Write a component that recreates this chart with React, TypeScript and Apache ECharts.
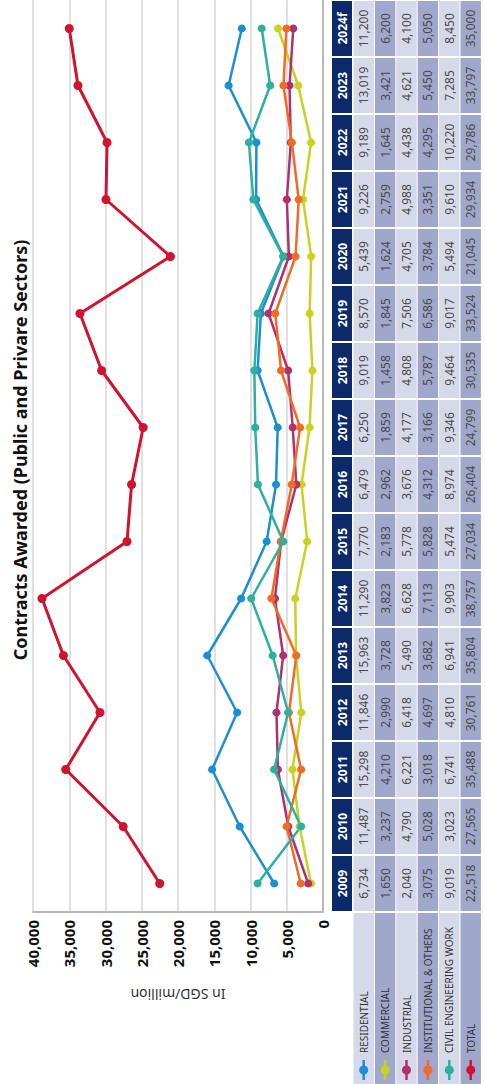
import React, { useEffect, useRef } from "react";
import * as echarts from "echarts";

const years = ["2009", "2010", "2011", "2012", "2013", "2014", "2015", "2016", "2017", "2018", "2019", "2020", "2021", "2022", "2023", "2024f"];
const residential = [6734, 11487, 15298, 11846, 15963, 11290, 7770, 6479, 6250, 9019, 8570, 5439, 9226, 9189, 13019, 11200];
const commercial = [1650, 3237, 4210, 2990, 3728, 3823, 2183, 2962, 1859, 1458, 1845, 1624, 2759, 1645, 3421, 6200];
const industrial = [2040, 4790, 6221, 6418, 5490, 6628, 5778, 3676, 4177, 4808, 7506, 4705, 4988, 4438, 4621, 4100];
const institutional = [3075, 5028, 3018, 4697, 3682, 7113, 5828, 4312, 3166, 5787, 6586, 3784, 3351, 4295, 5450, 5050];
const civil = [9019, 3023, 6741, 4810, 6941, 9903, 5474, 8974, 9346, 9464, 9017, 5494, 9610, 10220, 7285, 8450];
const total = [22518, 27565, 35488, 30761, 35804, 38757, 27034, 26404, 24799, 30535, 33524, 21045, 29934, 29786, 33797, 35000];

const seriesNames = ["RESIDENTIAL", "COMMERCIAL", "INDUSTRIAL", "INSTITUTIONAL & OTHERS", "CIVIL ENGINEERING WORK", "TOTAL"];
const seriesData = [residential, commercial, industrial, institutional, civil, total];
const seriesColors = ["#1b8fd2", "#c9d31f", "#b3306f", "#f26b25", "#2cb1a0", "#d0132f"];

const titleText = "Contracts Awarded (Public and Privare Sectors)";
const axisName = "In SGD/million";

const fmt = (v: number) => v.toString().replace(/\B(?=(\d{3})+(?!\d))/g, ",");

const W = 1084;
const H = 485;

export default function App() {
  const ref = useRef<HTMLDivElement>(null);
  useEffect(() => {
    if (!ref.current) return;
    const chart = echarts.init(ref.current, undefined, { renderer: "svg", width: W, height: H });
    const font = "'Noto Sans', 'DejaVu Sans', sans-serif";
    const option: any = {
      animation: false,
      backgroundColor: "#ffffff",
      grid: { left: 172, right: 0, top: 33, bottom: 162, containLabel: false },
      xAxis: {
        type: "category",
        data: years,
        boundaryGap: true,
        axisLine: { show: true, lineStyle: { color: "#b8b8b8", width: 2 } },
        axisTick: { show: false },
        axisLabel: { show: false },
        splitLine: { show: false },
      },
      yAxis: {
        type: "value",
        min: 0,
        max: 40000,
        interval: 5000,
        axisLine: { show: true, lineStyle: { color: "#b8b8b8", width: 2 } },
        axisTick: { show: false },
        splitLine: { show: true, lineStyle: { color: "#d6d6d6", width: 1.5 } },
        axisLabel: {
          formatter: (v: number) => fmt(v),
          fontFamily: font,
          fontWeight: "bold",
          fontSize: 15,
          color: "#111111",
          margin: 8,
        },
        name: axisName,
        nameLocation: "middle",
        nameGap: 75,
        nameTextStyle: { fontFamily: font, fontSize: 14, color: "#333333" },
      },
      series: seriesNames.map((name, i) => ({
        name,
        type: "line",
        data: seriesData[i],
        symbol: "circle",
        symbolSize: i === 5 ? 9 : 8,
        itemStyle: { color: seriesColors[i] },
        lineStyle: { color: seriesColors[i], width: i === 5 ? 3 : 2.5 },
        z: i === 5 ? 5 : 3,
      })),
    };
    chart.setOption(option);

    // Build data table under the plot using the category axis positions
    const centers = years.map((y) => chart.convertToPixel({ xAxisIndex: 0 }, y) as number);
    const colW = centers.length > 1 ? centers[1] - centers[0] : 57;
    const tableTop = 332;
    const headerH = 21;
    const rowH = 21.4;
    const light = "#d6d9e9";
    const dark = "#9fa7ca";
    const navy = "#0c2a69";
    const g: any[] = [];

    g.push({
      type: "text",
      x: 634,
      y: 20,
      style: {
        text: titleText,
        fontFamily: font,
        fontSize: 18,
        fontWeight: "bold",
        fill: "#111111",
        align: "center",
        verticalAlign: "middle",
      },
    });

    years.forEach((y, c) => {
      const x0 = centers[c] - colW / 2;
      g.push({
        type: "rect",
        shape: { x: x0 + 1, y: tableTop, width: colW - 2, height: headerH - 1 },
        style: { fill: navy },
      });
      g.push({
        type: "text",
        x: centers[c],
        y: tableTop + headerH / 2,
        style: {
          text: y,
          fontFamily: font,
          fontSize: 12,
          fontWeight: "bold",
          fill: "#ffffff",
          align: "center",
          verticalAlign: "middle",
        },
      });
    });

    seriesNames.forEach((name, r) => {
      const y0 = tableTop + headerH + r * rowH;
      const fill = r % 2 === 0 ? light : dark;
      // label cell
      g.push({
        type: "rect",
        shape: { x: 0, y: y0 + 0.5, width: centers[0] - colW / 2 - 1, height: rowH - 1 },
        style: { fill },
      });
      g.push({
        type: "line",
        shape: { x1: 4, y1: y0 + rowH / 2, x2: 24, y2: y0 + rowH / 2 },
        style: { stroke: seriesColors[r], lineWidth: 2.5 },
      });
      g.push({
        type: "circle",
        shape: { cx: 14, cy: y0 + rowH / 2, r: 4.5 },
        style: { fill: seriesColors[r] },
      });
      g.push({
        type: "text",
        x: 31,
        y: y0 + rowH / 2,
        style: {
          text: name,
          fontFamily: font,
          fontSize: 10,
          fill: "#333333",
          align: "left",
          verticalAlign: "middle",
        },
      });
      years.forEach((_, c) => {
        const x0 = centers[c] - colW / 2;
        g.push({
          type: "rect",
          shape: { x: x0 + 1, y: y0 + 0.5, width: colW - 2, height: rowH - 1 },
          style: { fill },
        });
        g.push({
          type: "text",
          x: centers[c],
          y: y0 + rowH / 2,
          style: {
            text: fmt(seriesData[r][c]),
            fontFamily: font,
            fontSize: 12,
            fill: "#4a4a4a",
            align: "center",
            verticalAlign: "middle",
          },
        });
      });
    });

    chart.setOption({ graphic: g });
    return () => chart.dispose();
  }, []);

  return (
    <div style={{ position: "fixed", left: 0, top: 0, width: 485, height: 1084, overflow: "hidden", background: "#ffffff" }}>
      <div
        ref={ref}
        style={{
          position: "absolute",
          left: 0,
          top: 0,
          width: W,
          height: H,
          transformOrigin: "0 0",
          transform: `translate(0px, ${W}px) rotate(-90deg)`,
        }}
      />
    </div>
  );
}
